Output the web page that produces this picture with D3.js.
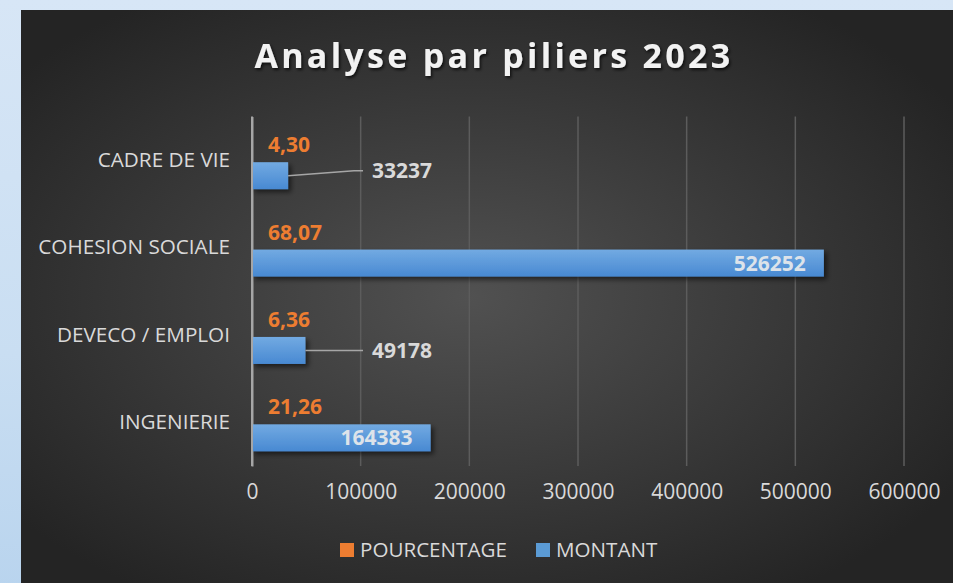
<!DOCTYPE html>
<html>
<head>
<meta charset="utf-8">
<script src="https://cdn.jsdelivr.net/npm/d3@7"></script>
<style>
    body {
        margin: 0;
        background: linear-gradient(180deg, #d7e6f6 0%, #c9def2 60%, #b9d4ee 100%);
        font-family: "Open Sans", sans-serif;
        overflow: hidden;
    }
</style>
</head>
<body>
<svg id="chart" width="953" height="583"></svg>
<script>
// data
let categories = ["CADRE DE VIE", "COHESION SOCIALE", "DEVECO / EMPLOI", "INGENIERIE"];
let pourcentage = [4.30, 68.07, 6.36, 21.26];
let montant = [33237, 526252, 49178, 164383];
let xTicks = [0, 100000, 200000, 300000, 400000, 500000, 600000];
let seriesNames = ["POURCENTAGE", "MONTANT"];

let svg = d3.select("#chart");
let defs = svg.append("defs");

// dark panel with a soft radial light
let bg = defs.append("radialGradient")
    .attr("id", "panelGrad")
    .attr("cx", "48%").attr("cy", "50%").attr("r", "62%");
bg.append("stop").attr("offset", "0%").attr("stop-color", "#515151");
bg.append("stop").attr("offset", "100%").attr("stop-color", "#242424");

let blueGrad = defs.append("linearGradient")
    .attr("id", "blueGrad").attr("x1", 0).attr("y1", 0).attr("x2", 0).attr("y2", 1);
blueGrad.append("stop").attr("offset", "0%").attr("stop-color", "#72aae2");
blueGrad.append("stop").attr("offset", "100%").attr("stop-color", "#4889d2");

let orangeGrad = defs.append("linearGradient")
    .attr("id", "orangeGrad").attr("x1", 0).attr("y1", 0).attr("x2", 0).attr("y2", 1);
orangeGrad.append("stop").attr("offset", "0%").attr("stop-color", "#f6a26b");
orangeGrad.append("stop").attr("offset", "100%").attr("stop-color", "#ec7a2c");

let shadow = defs.append("filter").attr("id", "barShadow")
    .attr("x", "-10%").attr("y", "-30%").attr("width", "130%").attr("height", "180%");
shadow.append("feDropShadow")
    .attr("dx", 3).attr("dy", 3).attr("stdDeviation", 2.5)
    .attr("flood-color", "#000").attr("flood-opacity", 0.55);

let titleShadow = defs.append("filter").attr("id", "titleShadow")
    .attr("x", "-5%").attr("y", "-30%").attr("width", "110%").attr("height", "170%");
titleShadow.append("feDropShadow")
    .attr("dx", 1.5).attr("dy", 2).attr("stdDeviation", 1.5)
    .attr("flood-color", "#000").attr("flood-opacity", 0.7);

svg.append("rect")
    .attr("x", 21).attr("y", 10)
    .attr("width", 932).attr("height", 573)
    .attr("fill", "url(#panelGrad)");

// title
svg.append("text")
    .attr("x", 494).attr("y", 68)
    .attr("text-anchor", "middle")
    .attr("fill", "#f2f2f2")
    .style("font-size", "34px")
    .style("font-weight", "bold")
    .style("letter-spacing", "3.3px")
    .attr("filter", "url(#titleShadow)")
    .text("Analyse par piliers 2023");

// scales
let x = d3.scaleLinear().domain([0, 600000]).range([252, 904]);
let y = d3.scaleBand().domain(categories).range([116.5, 466])
    .paddingInner(0.336).paddingOuter(0.168);
let ySub = d3.scaleBand().domain([0, 1]).range([0, y.bandwidth()]).paddingInner(0.13);

// gridlines
svg.append("g")
    .selectAll("line")
    .data(xTicks.slice(1))
    .join("line")
    .attr("x1", d => x(d)).attr("x2", d => x(d))
    .attr("y1", 116.5).attr("y2", 466)
    .attr("stroke", "#5c5c5c")
    .attr("stroke-width", 1.5);

// x axis (tick labels only)
let xAxis = svg.append("g")
    .attr("transform", "translate(0,466)")
    .call(d3.axisBottom(x).tickValues(xTicks).tickFormat(d3.format("d")).tickSize(0).tickPadding(18));
xAxis.select(".domain").remove();
xAxis.selectAll("text")
    .attr("fill", "#d9d9d9")
    .style("font-size", "21px")
    .style("font-family", "'Open Sans', sans-serif");

// y axis
let yAxis = svg.append("g")
    .attr("transform", "translate(252,0)")
    .call(d3.axisLeft(y).tickSize(0).tickPadding(22));
yAxis.select(".domain")
    .attr("stroke", "#a6a6a6")
    .attr("stroke-width", 2);
yAxis.selectAll("text")
    .attr("fill", "#d9d9d9")
    .style("font-size", "20.7px")
    .style("font-family", "'Open Sans', sans-serif");

let rows = categories.map((c, i) => ({ cat: c, pct: pourcentage[i], amt: montant[i], i: i }));

// bars
let groups = svg.append("g")
    .selectAll("g")
    .data(rows)
    .join("g")
    .attr("transform", d => `translate(0,${y(d.cat)})`);

groups.append("rect")
    .attr("x", x(0))
    .attr("y", ySub(0))
    .attr("width", d => x(d.pct) - x(0))
    .attr("height", ySub.bandwidth())
    .attr("fill", "url(#orangeGrad)")
    .attr("stroke", "#f4a36c")
    .attr("stroke-width", 1.5);

groups.append("rect")
    .attr("x", x(0))
    .attr("y", ySub(1))
    .attr("width", d => x(d.amt) - x(0))
    .attr("height", ySub.bandwidth())
    .attr("fill", "url(#blueGrad)")
    .attr("filter", "url(#barShadow)");

// axis line drawn on top of bars
svg.append("line")
    .attr("x1", x(0)).attr("x2", x(0))
    .attr("y1", 116.5).attr("y2", 466)
    .attr("stroke", "#a6a6a6")
    .attr("stroke-width", 2);

// percentage labels
groups.append("text")
    .attr("x", x(0) + 16)
    .attr("y", ySub(0) + ySub.bandwidth() / 2)
    .attr("dy", "0.36em")
    .attr("fill", "#ED7D31")
    .style("font-size", "21px")
    .style("font-weight", "bold")
    .text(d => d3.format(".2f")(d.pct).replace(".", ","));

// amount labels: inside the bar end when it fits, else outside with a leader line
let labelX = x(0) + 120;
let outside = d => x(d.amt) < labelX - 30;

groups.filter(outside).append("polyline")
    .attr("points", d => {
        let cy = ySub(1) + ySub.bandwidth() / 2;
        let ly = d.i === 0 ? cy - 5 : cy;
        return `${x(d.amt)},${cy} ${labelX - 18},${ly} ${labelX - 9},${ly}`;
    })
    .attr("fill", "none")
    .attr("stroke", "#a6a6a6")
    .attr("stroke-width", 1.5);

groups.append("text")
    .attr("x", d => outside(d) ? labelX : x(d.amt) - 18)
    .attr("y", d => ySub(1) + ySub.bandwidth() / 2 - (outside(d) && d.i === 0 ? 5 : 0))
    .attr("dy", "0.36em")
    .attr("text-anchor", d => outside(d) ? "start" : "end")
    .attr("fill", d => outside(d) ? "#d9d9d9" : "#dde3ea")
    .style("font-size", "21px")
    .style("font-weight", "bold")
    .text(d => d.amt);

// legend
let legendColors = ["#ED7D31", "#5B9BD5"];
let legendX = [340, 536];
let legend = svg.append("g")
    .selectAll("g")
    .data(seriesNames)
    .join("g")
    .attr("transform", (d, i) => `translate(${legendX[i]},543)`);

legend.append("rect")
    .attr("width", 14).attr("height", 14)
    .attr("fill", (d, i) => legendColors[i]);

legend.append("text")
    .attr("x", 20).attr("y", 14)
    .attr("fill", "#d9d9d9")
    .style("font-size", "20.6px")
    .text(d => d);
</script>
</body>
</html>
